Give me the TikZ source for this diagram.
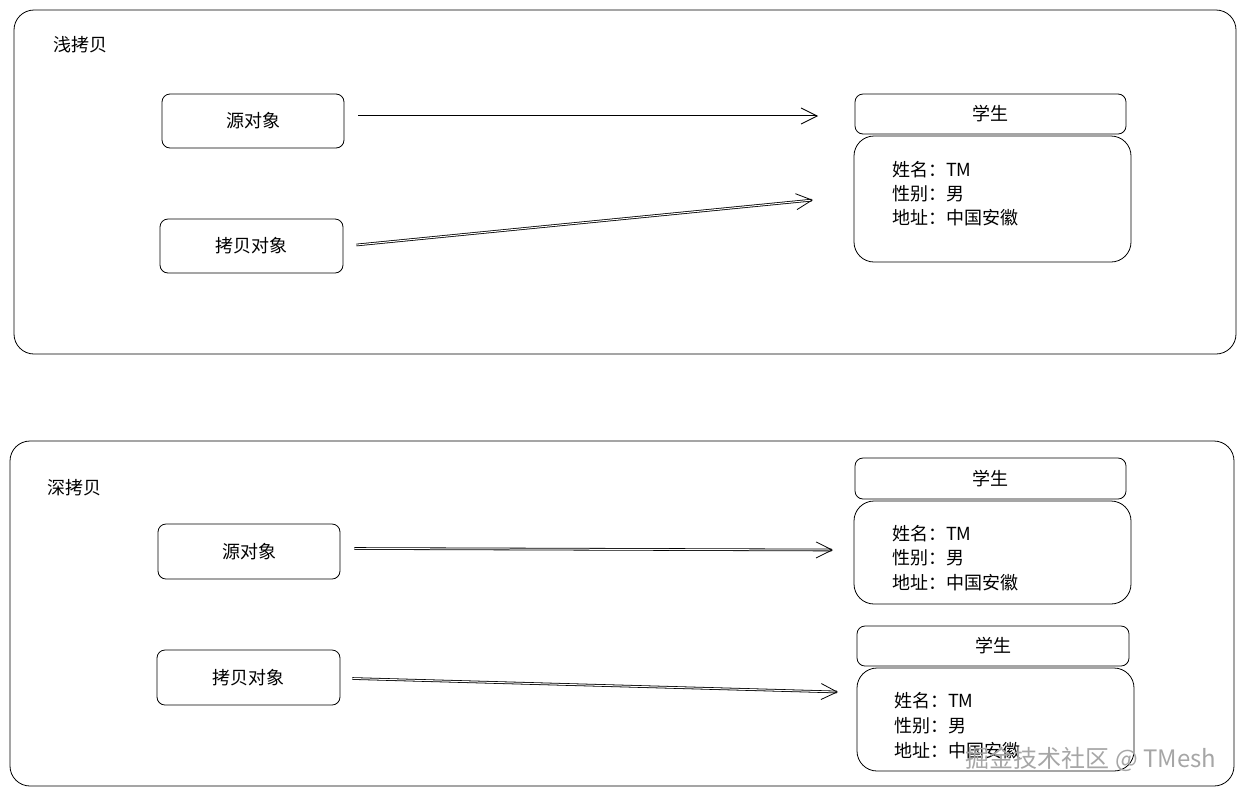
\documentclass[tikz,border=0pt]{standalone}
\usepackage{fontspec}
\setmainfont{Noto Sans CJK SC}
\usetikzlibrary{arrows.meta}
\tikzset{
  frame/.style={draw, rounded corners=20pt, line width=0.8pt},
  obj/.style={draw, rounded corners=8pt, line width=0.8pt, font=\fontsize{18}{20}\selectfont},
  field/.style={anchor=west, inner sep=0pt, font=\fontsize{18}{20}\selectfont},
  ref/.style={-{Straight Barb[length=16pt,width=16pt]}, line width=0.8pt, double distance=1pt}
}
\begin{document}
\begin{tikzpicture}[x=1pt,y=-1pt]
  \useasboundingbox (0,0) rectangle (1246,796);
  % shallow copy
  \draw[frame] (14,10) rectangle (1236,354);
  \node[font=\fontsize{18}{20}\selectfont] (shallow) at (80,45) {浅拷贝};
  \node[obj, minimum width=182pt, minimum height=54pt] (src1) at (253,121) {源对象};
  \node[obj, minimum width=183pt, minimum height=54pt] (cpy1) at (251.5,246) {拷贝对象};
  \node[obj, minimum width=271pt, minimum height=40pt] (stu1) at (990.5,114) {学生};
  \node[obj, rounded corners=20pt, minimum width=277pt, minimum height=126pt] (body1) at (992.5,199) {};
  \node[field] (n1) at (892,170) {姓名：TM};
  \node[field] (g1) at (892,194) {性别：男};
  \node[field] (a1) at (892,218) {地址：中国安徽};
  \coordinate (e1) at (818,116);
  \coordinate (e2) at (813,200);
  \draw[ref] (src1.east) ++(14,-5) -- (e1);
  \draw[ref] (cpy1.east) ++(13,-1) -- (e2);
  % deep copy
  \draw[frame] (10,441) rectangle (1234,786);
  \node[font=\fontsize{18}{20}\selectfont] (deep) at (74,488) {深拷贝};
  \node[obj, minimum width=182pt, minimum height=55pt] (src2) at (249,551.5) {源对象};
  \node[obj, minimum width=183pt, minimum height=55pt] (cpy2) at (248.5,677.5) {拷贝对象};
  \node[obj, minimum width=271pt, minimum height=41pt] (stu2) at (990.5,478.5) {学生};
  \node[obj, rounded corners=20pt, minimum width=277pt, minimum height=103pt] (body2) at (992.5,552.5) {};
  \node[field] (n2) at (892,534) {姓名：TM};
  \node[field] (g2) at (892,558) {性别：男};
  \node[field] (a2) at (892,583) {地址：中国安徽};
  \node[obj, minimum width=272pt, minimum height=40pt] (stu3) at (993,646) {学生};
  \node[obj, rounded corners=20pt, minimum width=277pt, minimum height=103pt] (body3) at (995.5,719.5) {};
  \node[field] (n3) at (894,701) {姓名：TM};
  \node[field] (g3) at (894,726) {性别：男};
  \node[field] (a3) at (894,751) {地址：中国安徽};
  \coordinate (e3) at (833,550);
  \coordinate (e4) at (838,692);
  \draw[ref] (src2.east) ++(14,-3) -- (e3);
  \draw[ref] (cpy2.east) ++(12,1) -- (e4);
  % watermark
  \node[text=black!35, font=\fontsize{24}{26}\selectfont] (mark) at (1091,759) {掘金技术社区 @ TMesh};
\end{tikzpicture}
\end{document}
